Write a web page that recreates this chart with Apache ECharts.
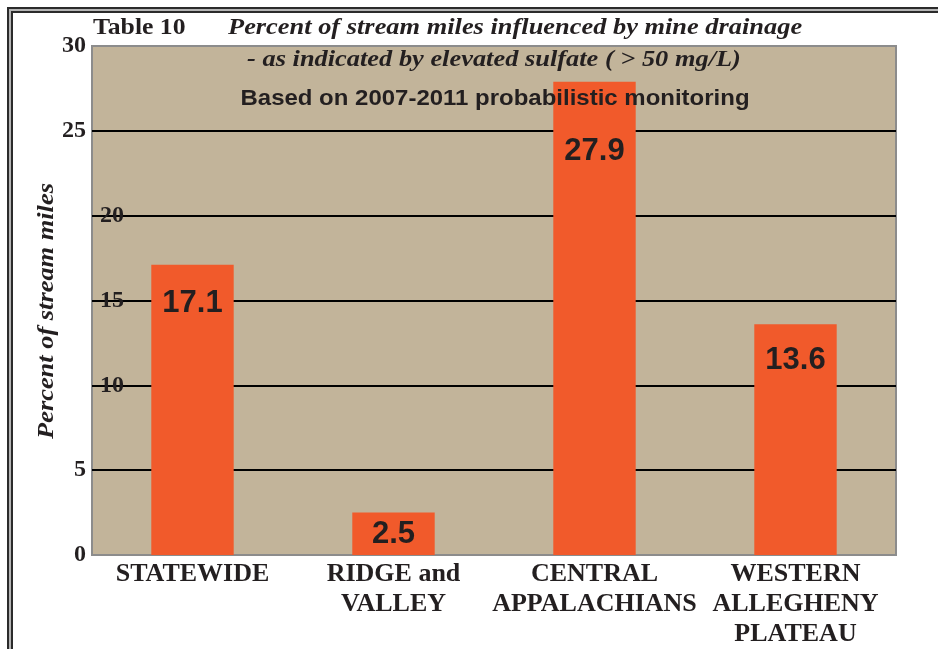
<!DOCTYPE html>
<html>
<head>
<meta charset="utf-8">
<script src="https://cdn.jsdelivr.net/npm/echarts@6/dist/echarts.min.js"></script>
<style>
  html, body { margin: 0; padding: 0; background: #fff; }
  #chartBox { width: 938px; height: 649px; }
</style>
</head>
<body>
<div id="chartBox"></div>
<script>
var categories = ['STATEWIDE', 'RIDGE and\nVALLEY', 'CENTRAL\nAPPALACHIANS', 'WESTERN\nALLEGHENY\nPLATEAU'];
var percentMiles = [17.1, 2.5, 27.9, 13.6];
var yTicksOutside = [0, 5, 25, 30];   // printed left of the plot box
var yTicksInside = [10, 15, 20];      // printed over the grid lines
// label gap below each bar top (style only)
var labelGap = [23, 6, 54, 21];

var serif = '"Liberation Serif", "Times New Roman", serif';
var sans = '"Liberation Sans", Arial, sans-serif';
var ink = '#231f20';

var myChart = echarts.init(document.getElementById('chartBox'));

var barData = percentMiles.map(function (v, i) {
    return {
        value: v,
        label: { distance: labelGap[i] }
    };
});

myChart.setOption({
    animation: false,
    grid: {
        left: 92,
        right: 42,
        top: 46,
        bottom: 93,
        show: true,
        backgroundColor: '#c2b49a',
        borderColor: '#8c8c8c',
        borderWidth: 2,
        z: 0
    },
    graphic: [
        // double frame round the table
        {
            type: 'polyline',
            shape: { points: [[10, 660], [10, 10], [950, 10]] },
            style: { stroke: '#2b2b2b', lineWidth: 6, fill: null },
            silent: true
        },
        {
            type: 'polyline',
            shape: { points: [[10, 660], [10, 10], [950, 10]] },
            style: { stroke: '#b5b5b5', lineWidth: 2, fill: null },
            silent: true
        },
        {
            type: 'text', x: 93, y: 28, scaleX: 1.07,
            style: { text: 'Table 10', font: 'bold 24px ' + serif, fill: ink, verticalAlign: 'middle' }
        },
        {
            type: 'text', x: 228, y: 28, scaleX: 1.1,
            style: { text: 'Percent of stream miles influenced by mine drainage', font: 'italic bold 24px ' + serif, fill: ink, verticalAlign: 'middle' }
        },
        {
            type: 'text', x: 494, y: 60, scaleX: 1.1,
            style: { text: '- as indicated by elevated sulfate ( > 50 mg/L)', font: 'italic bold 24px ' + serif, fill: ink, align: 'center', verticalAlign: 'middle' },
            z: 10
        },
        {
            type: 'text', x: 495, y: 99, scaleX: 1.09,
            style: { text: 'Based on 2007-2011 probabilistic monitoring', font: 'bold 22px ' + sans, fill: ink, align: 'center', verticalAlign: 'middle' },
            z: 10
        },
        {
            type: 'text', x: 47, y: 311, rotation: Math.PI / 2, scaleX: 1.1,
            style: { text: 'Percent of stream miles', font: 'italic bold 24px ' + serif, fill: ink, align: 'center', verticalAlign: 'middle' }
        }
    ],
    xAxis: {
        type: 'category',
        data: categories,
        axisLine: { show: false },
        axisTick: { show: false },
        axisLabel: {
            interval: 0,
            margin: 4,
            color: ink,
            fontFamily: serif,
            fontWeight: 'bold',
            fontSize: 26,
            lineHeight: 30
        }
    },
    yAxis: [
        {
            type: 'value',
            min: 0,
            max: 30,
            interval: 5,
            axisLine: { show: false },
            axisTick: { show: false },
            splitLine: {
                show: true,
                showMinLine: false,
                showMaxLine: false,
                lineStyle: { color: '#000', width: 2 }
            },
            axisLabel: {
                margin: 6,
                color: ink,
                fontFamily: serif,
                fontWeight: 'bold',
                fontSize: 24,
                formatter: function (v) {
                    return yTicksOutside.indexOf(v) >= 0 ? String(v) : '';
                }
            }
        },
        {
            type: 'value',
            position: 'left',
            min: 0,
            max: 30,
            interval: 5,
            axisLine: { show: false },
            axisTick: { show: false },
            splitLine: { show: false },
            axisLabel: {
                inside: true,
                margin: 8,
                color: ink,
                fontFamily: serif,
                fontWeight: 'bold',
                fontSize: 24,
                formatter: function (v) {
                    return yTicksInside.indexOf(v) >= 0 ? String(v) : '';
                }
            },
            z: 5
        }
    ],
    series: [
        {
            type: 'bar',
            data: barData,
            yAxisIndex: 0,
            barWidth: '41%',
            itemStyle: { color: '#f15a2b' },
            label: {
                show: true,
                position: 'insideTop',
                color: ink,
                fontFamily: sans,
                fontWeight: 'bold',
                fontSize: 31
            },
            z: 3
        }
    ]
});
</script>
</body>
</html>
